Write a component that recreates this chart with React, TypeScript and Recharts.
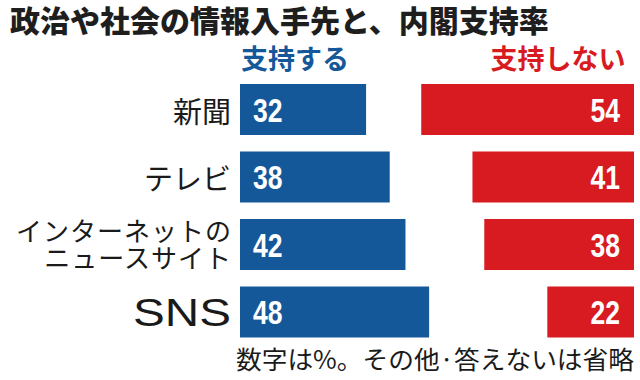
import { Bar, BarChart, LabelList, XAxis, YAxis } from "recharts";

const categories = ["新聞", "テレビ", "インターネットの\nニュースサイト", "SNS"];
const support = [32, 38, 42, 48];
const nonSupport = [54, 41, 38, 22];
const seriesNames = ["支持する", "支持しない"];
const title = "政治や社会の情報入手先と、内閣支持率";
const note = "数字は%。その他·答えないは省略";

const BLUE = "#15589a";
const RED = "#d81a21";
const JP = "'Noto Sans CJK JP', 'Noto Sans', sans-serif";
const NUM = "'Liberation Sans', Arial, sans-serif";

const data = categories.map((name, i) => ({
  name,
  support: support[i],
  nonSupport: nonSupport[i],
}));

function CategoryTick({ x, y, payload }: { x?: number; y?: number; payload?: { value: string } }) {
  const lines = String(payload?.value ?? "").split("\n");
  const tx = (x ?? 0) - 1;
  const ty = y ?? 0;
  if (/^[A-Za-z]+$/.test(lines[0])) {
    // 欧文は横長の書体なので幅を合わせる
    return (
      <text
        x={tx}
        y={ty + 14}
        textAnchor="end"
        fontFamily={NUM}
        fontSize={39}
        fill="#1a1a1a"
        textLength={98}
        lengthAdjust="spacingAndGlyphs"
      >
        {lines[0]}
      </text>
    );
  }
  if (lines.length === 1) {
    return (
      <text x={tx} y={ty + 13} textAnchor="end" fontFamily={JP} fontSize={29} fill="#1a1a1a">
        {lines[0]}
      </text>
    );
  }
  return (
    <text textAnchor="end" fontFamily={JP} fontSize={26} letterSpacing={1} fill="#1a1a1a">
      {lines.map((l, i) => (
        <tspan key={i} x={tx + 1} y={ty - 4 + i * 27}>
          {l}
        </tspan>
      ))}
    </text>
  );
}

type LabelProps = { x?: number; y?: number; width?: number; height?: number; value?: number };

const valueLabel = (side: "left" | "right") => (props: LabelProps) => {
  const x = Number(props.x);
  const w = Number(props.width);
  const y = Number(props.y);
  const h = Number(props.height);
  const left = Math.min(x, x + w);
  const right = Math.max(x, x + w);
  const ax = side === "left" ? left + 13 : right - 14;
  // 長体の数字 (condensed)
  return (
    <text
      transform={`translate(${ax},${y + h / 2 + 12}) scale(0.78,1)`}
      textAnchor={side === "left" ? "start" : "end"}
      fontFamily={NUM}
      fontWeight="bold"
      fontSize={34}
      fill="#fff"
    >
      {props.value}
    </text>
  );
};

export default function App() {
  return (
    <div style={{ position: "absolute", left: 0, top: 0, width: 640, height: 380, background: "#fff" }}>
      <BarChart
        width={640}
        height={380}
        data={data}
        layout="vertical"
        margin={{ top: 76, right: 6, bottom: 34, left: 10 }}
      >
        <XAxis xAxisId="l" type="number" domain={[0, 100]} hide />
        <XAxis xAxisId="r" type="number" domain={[0, 100]} reversed hide />
        <YAxis
          yAxisId="l"
          type="category"
          dataKey="name"
          width={230}
          axisLine={false}
          tickLine={false}
          interval={0}
          tick={<CategoryTick />}
        />
        <YAxis yAxisId="r" type="category" dataKey="name" hide />
        <Bar xAxisId="l" yAxisId="l" dataKey="support" fill={BLUE} barSize={51} isAnimationActive={false}>
          <LabelList dataKey="support" content={valueLabel("left")} />
        </Bar>
        <Bar xAxisId="r" yAxisId="r" dataKey="nonSupport" fill={RED} barSize={51} isAnimationActive={false}>
          <LabelList dataKey="nonSupport" content={valueLabel("right")} />
        </Bar>
      </BarChart>
      <svg
        width={640}
        height={380}
        style={{ position: "absolute", left: 0, top: 0, pointerEvents: "none" }}
      >
        <text x={10} y={32} fontFamily={JP} fontWeight={900} fontSize={30} fill="#1e1e1e">
          {title}
        </text>
        <text x={295} y={69} textAnchor="middle" fontFamily={JP} fontWeight="bold" fontSize={27} fill={BLUE}>
          {seriesNames[0]}
        </text>
        <text x={558} y={69} textAnchor="middle" fontFamily={JP} fontWeight="bold" fontSize={27} fill={RED}>
          {seriesNames[1]}
        </text>
        <text
          x={634}
          y={369}
          textAnchor="end"
          fontFamily={JP}
          fontSize={25}
          fill="#1a1a1a"
          textLength={398}
          lengthAdjust="spacingAndGlyphs"
        >
          {note}
        </text>
      </svg>
    </div>
  );
}
